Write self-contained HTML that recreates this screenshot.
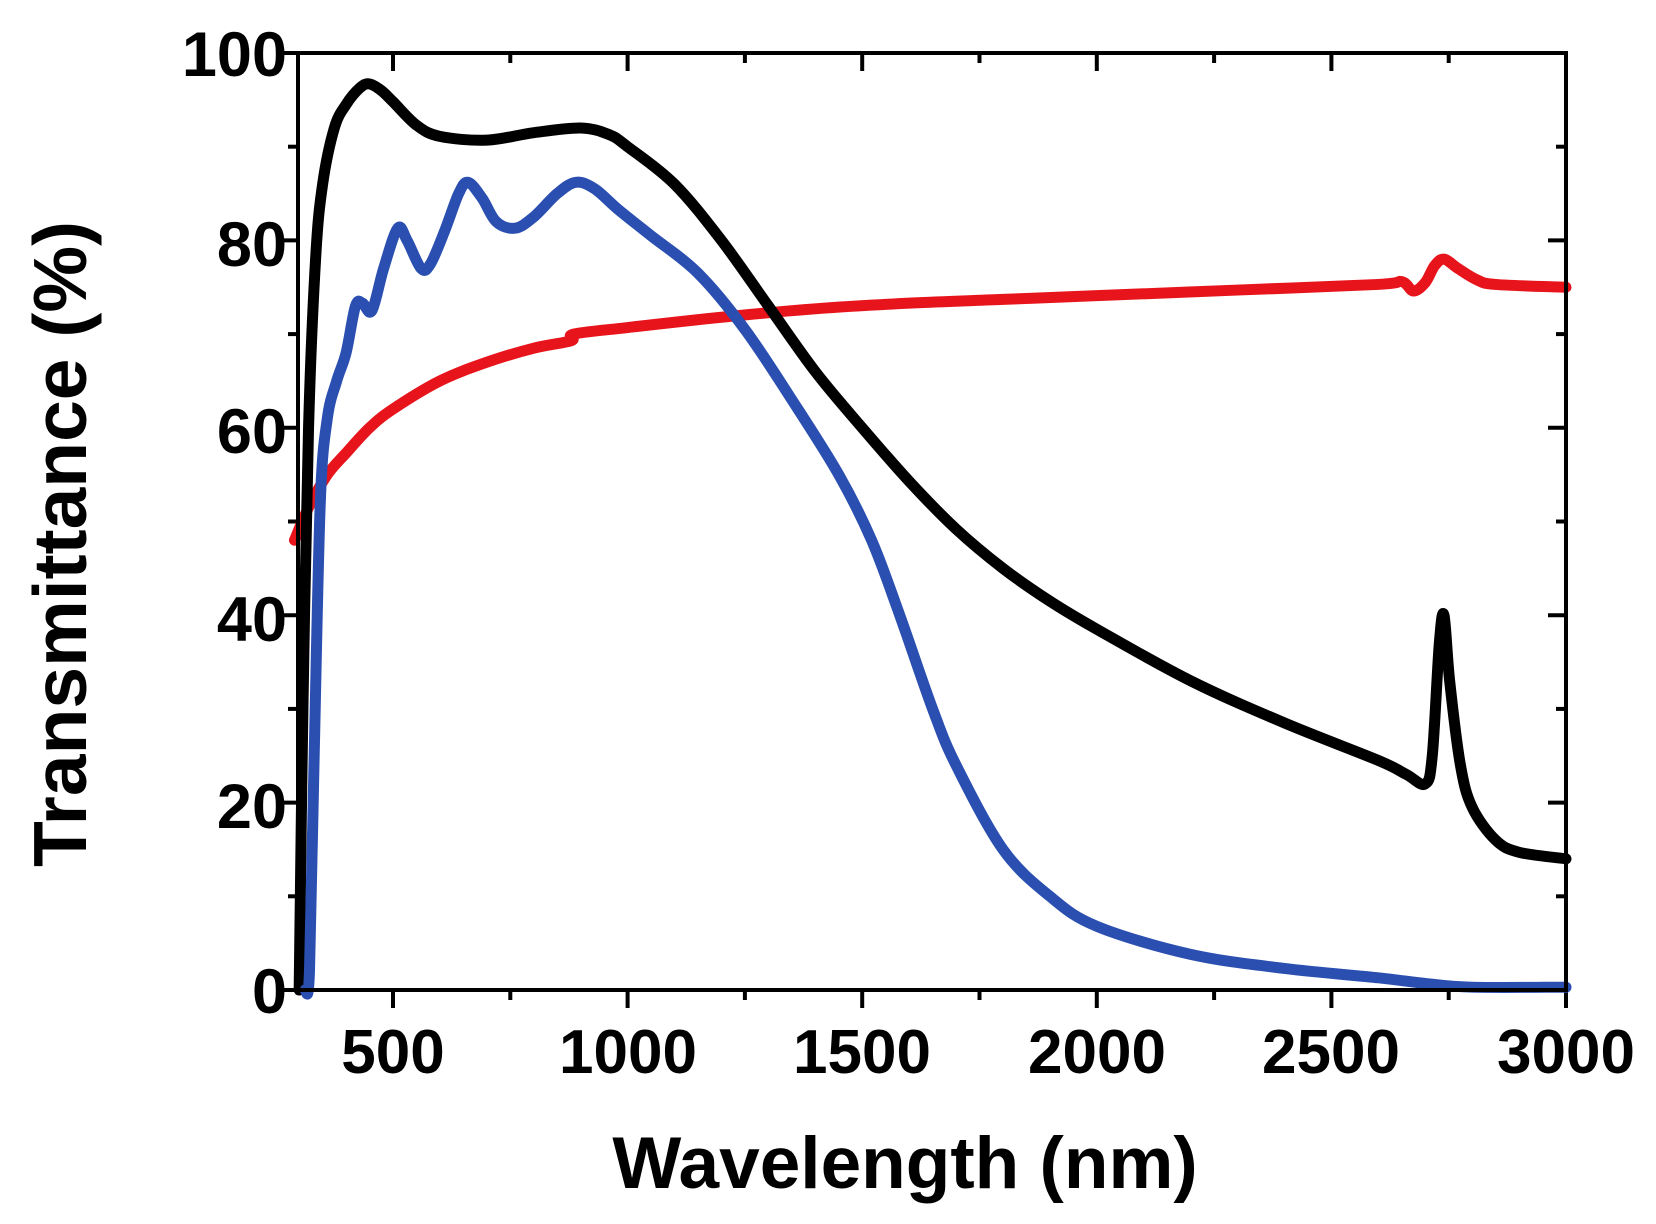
<!DOCTYPE html>
<html><head><meta charset="utf-8"><style>
html,body{margin:0;padding:0;background:#fff;}
svg{display:block;}
text{font-family:"Liberation Sans",Arial,sans-serif;font-weight:bold;fill:#000;}
</style></head><body>
<svg id="s" width="1656" height="1224" viewBox="0 0 1656 1224" xmlns="http://www.w3.org/2000/svg">
<g id="ticks" stroke="#000" stroke-width="4"></g>
<g id="lines" fill="none" stroke-linejoin="round" stroke-linecap="round"></g>
<rect x="298" y="53" width="1268" height="937" fill="none" stroke="#000" stroke-width="4"/>
<g font-size="63" text-anchor="end">
<text x="287" y="76">100</text>
<text x="287" y="266">80</text>
<text x="287" y="453">60</text>
<text x="287" y="641">40</text>
<text x="287" y="828">20</text>
<text x="287" y="1013">0</text>
</g>
<g font-size="62" text-anchor="middle">
<text x="393" y="1073">500</text>
<text x="628" y="1073">1000</text>
<text x="862" y="1073">1500</text>
<text x="1097" y="1073">2000</text>
<text x="1331" y="1073">2500</text>
<text x="1566" y="1073">3000</text>
</g>
<text x="905" y="1188" font-size="73" text-anchor="middle">Wavelength (nm)</text>
<text transform="translate(86,544) rotate(-90)" font-size="75" text-anchor="middle">Transmittance (%)</text>
</svg>
<script>
function X(n){return 393+(n-500)*0.4692;}
function Y(v){return 990-v*9.37;}
var t=document.getElementById('ticks'),h='';
for(var v=0;v<=100;v+=10){var y=Y(v),L=(v%20==0)?18:10;
 h+='<line x1="'+(298-L)+'" y1="'+y+'" x2="298" y2="'+y+'"/>';
 h+='<line x1="1566" y1="'+y+'" x2="'+(1566-L)+'" y2="'+y+'"/>';}
for(var n=500;n<=3000;n+=250){var x=X(n),L=(n%500==0)?18:10;
 h+='<line x1="'+x+'" y1="990" x2="'+x+'" y2="'+(990+L)+'"/>';
 h+='<line x1="'+x+'" y1="53" x2="'+x+'" y2="'+(53+L)+'"/>';}
t.innerHTML=h;
function path(d){var p=d.map(function(a){return [X(a[0]),Y(a[1])];});
 var s='M'+p[0][0]+' '+p[0][1];
 for(var i=0;i<p.length-1;i++){var p0=p[Math.max(i-1,0)],p1=p[i],p2=p[i+1],p3=p[Math.min(i+2,p.length-1)];
  var k=6;
  s+=' C'+(p1[0]+(p2[0]-p0[0])/k)+' '+(p1[1]+(p2[1]-p0[1])/k)+' '+(p2[0]-(p3[0]-p1[0])/k)+' '+(p2[1]-(p3[1]-p1[1])/k)+' '+p2[0]+' '+p2[1];}
 return s;}
var black=[[300,0],[308,30],[320,60],[335,78],[350,86],[375,92],[400,94.5],[430,96.3],[450,96.7],[475,96],[500,94.8],[550,92.3],[600,91.1],[700,90.7],[800,91.5],[900,92],[960,91.3],[1000,90],[1100,86],[1200,80],[1300,73],[1400,66],[1500,60],[1600,54.3],[1700,49.2],[1800,45],[1900,41.5],[2000,38.5],[2200,33],[2400,28.5],[2600,24.5],[2660,23],[2700,22],[2715,25],[2730,37],[2740,40],[2752,33],[2775,24],[2800,19.5],[2850,16],[2900,14.7],[3000,14]];
var blue=[[313,0],[322,2],[332,25],[345,52],[360,61],[380,65],[400,68],[420,73],[435,73.3],[455,72.5],[480,77],[510,81.3],[530,80],[560,77],[580,77.5],[610,81],[640,85],[660,86.2],[690,84.5],[720,82],[760,81.3],[800,82.5],[850,85],[890,86.2],[930,85.5],[980,83.3],[1050,80.5],[1150,76.5],[1250,70.5],[1350,63],[1450,55],[1520,48],[1580,40],[1650,30],[1700,24],[1800,15],[1900,10],[2000,6.8],[2200,3.8],[2400,2.3],[2600,1.3],[2700,0.7],[2800,0.3],[3000,0.3]];
var red=[[290,48],[320,51.5],[360,55],[400,57.3],[450,60],[500,62],[600,65],[700,67],[800,68.5],[880,69.3],[885,70],[1000,70.7],[1200,71.8],[1400,72.7],[1600,73.3],[1800,73.7],[2000,74.1],[2300,74.7],[2600,75.3],[2650,75.6],[2675,74.6],[2700,75.5],[2720,77.3],[2740,78],[2770,77],[2810,75.8],[2850,75.3],[3000,75]];
document.getElementById('lines').innerHTML=
 '<path d="'+path(red)+'" stroke="#e8141c" stroke-width="11"/>'+
 '<path d="'+path(black)+'" stroke="#000" stroke-width="11"/>'+
 '<path d="'+path(blue)+'" stroke="#2a4fb0" stroke-width="11"/>';
</script>
</body></html>
